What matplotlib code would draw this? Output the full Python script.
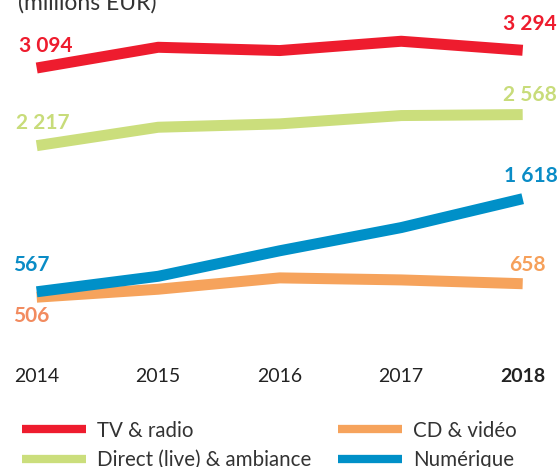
import matplotlib
matplotlib.use("Agg")
import matplotlib.pyplot as plt
from matplotlib.lines import Line2D

plt.rcParams['font.family'] = ['Lato', 'DejaVu Sans']

years = [2014, 2015, 2016, 2017, 2018]
year_labels = ["2014", "2015", "2016", "2017", "2018"]
series_names = ["TV & radio", "Direct (live) & ambiance", "CD & vidéo", "Numérique"]
tv_radio = [3094, 3328, 3291, 3396, 3294]
direct_live = [2217, 2425, 2463, 2557, 2568]
cd_video = [506, 596, 724, 701, 658]
numerique = [567, 742, 1030, 1292, 1618]
unit_label = "(millions EUR)"

# styles
line_colors = ["#EE1C2E", "#CBDE7C", "#F6A35C", "#0090C8"]
label_colors = {
    "TV & radio": ("#EE1C2E", "#EE1C2E"),
    "Direct (live) & ambiance": ("#C8DC7A", "#C8DC7A"),
    "CD & vidéo": ("#F28B5F", "#F6A05A"),
    "Numérique": ("#0A8CC6", "#0A8CC6"),
}
# label offsets in pixels (dx, dy up) for first and last point
label_offsets = {
    "TV & radio": ((8.8, 16.5), (7.3, 20.5)),
    "Direct (live) & ambiance": ((6.3, 16.2), (7.3, 14.0)),
    "CD & vidéo": ((-5.7, -25.0), (4.8, 12.3)),
    "Numérique": ((-5.7, 20.3), (8.3, 16.4)),
}

W, H, DPI = 560, 467, 100
fig = plt.figure(figsize=(W / DPI, H / DPI), dpi=DPI)
fig.patch.set_facecolor("white")

px_per_unit = 1 / 11.292
ymax = 3500
left_px, right_px, zero_px = 36.7, 522.7, 342
ax = fig.add_axes([left_px / W, (H - zero_px) / H,
                   (right_px - left_px) / W, ymax * px_per_unit / H])
ax.set_xlim(years[0], years[-1])
ax.set_ylim(0, ymax)
for s in ax.spines.values():
    s.set_visible(False)
ax.set_yticks([])
ax.set_xticks(years)
ax.set_xticklabels(year_labels)
ax.tick_params(axis="x", length=0, pad=18.5, labelsize=14, labelcolor="#222222")
ax.get_xticklabels()[-1].set_fontweight("bold")
ax.patch.set_alpha(0)

all_series = [tv_radio, direct_live, cd_video, numerique]
px2pt = 72 / DPI
for name, vals, col in zip(series_names, all_series, line_colors):
    ax.plot(years, vals, color=col, lw=11 * px2pt, solid_capstyle="butt",
            solid_joinstyle="round", clip_on=False, label=name)
    (d0, d1) = label_offsets[name]
    c0, c1 = label_colors[name]
    for (x, v, (dx, dy), c) in [(years[0], vals[0], d0, c0), (years[-1], vals[-1], d1, c1)]:
        ax.annotate(f"{v:,}".replace(",", " "), xy=(x, v),
                    xytext=(dx * px2pt, dy * px2pt), textcoords="offset points",
                    ha="center", va="baseline", fontsize=15, fontweight="bold",
                    color=c, annotation_clip=False)

fig.text(18 / W, 1 - 10 / H, unit_label, ha="left", va="baseline",
         fontsize=16.5, color="#333333")

leg_handles = [Line2D([], [], color=c, lw=8.3 * px2pt, solid_capstyle="butt") for c in line_colors]
leg = fig.legend(leg_handles, series_names, ncol=2, loc="lower left",
                 bbox_to_anchor=(14 / W, -11 / H), frameon=False,
                 fontsize=14.8, handlelength=3.1, handletextpad=0.55,
                 columnspacing=1.3, labelspacing=0.45, borderaxespad=0)
for t in leg.get_texts():
    t.set_color("#333333")

fig.savefig("out.png", dpi=DPI)
